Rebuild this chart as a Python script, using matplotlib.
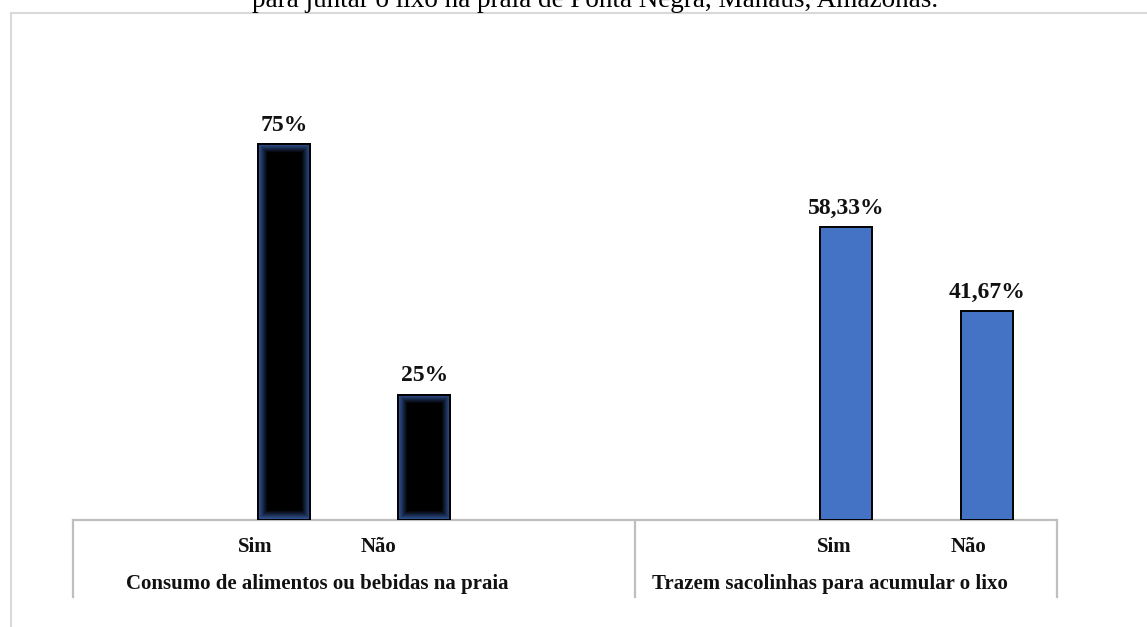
import numpy as np
import matplotlib
matplotlib.use('Agg')
import matplotlib.pyplot as plt
from matplotlib.colors import LinearSegmentedColormap
from matplotlib.lines import Line2D

plt.rcParams['font.family'] = ['Liberation Serif', 'DejaVu Serif']

# data
categories = ['Sim', 'Não', 'Sim', 'Não']
groups = ['Consumo de alimentos ou bebidas na praia', 'Trazem sacolinhas para acumular o lixo']
values = [75, 25, 58.33, 41.67]
value_labels = ['75%', '25%', '58,33%', '41,67%']
title = 'para juntar o lixo na praia de Ponta Negra, Manaus, Amazonas.'

# layout (category slots: group 1 has 4 slots, group 2 has 3)
bar_pos = [1, 2, 5, 6]
label_pos = [0.795, 1.67, 4.914, 5.867]
group_label_pos = [1.236, 4.885]
separators = [-0.5, 3.5, 6.5]

W, H = 1147, 627
fig = plt.figure(figsize=(W / 100, H / 100), dpi=100)
ax = fig.add_axes([73 / W, (H - 520) / H, (1057 - 73) / W, (520 - 118.8) / H])
ax.set_xlim(-0.5, 6.5)
ax.set_ylim(0, 80)
ax.axis('off')

bw = 0.37
cmap = LinearSegmentedColormap.from_list('glow', ['#000000', '#000000', '#1c2f55', '#34599a'])
for i, (x, v) in enumerate(zip(bar_pos, values)):
    if i < 2:
        bar = ax.bar(x, v, width=bw, color='black', edgecolor='black', linewidth=1.4, zorder=2)[0]
        # dark blue glow towards the edges
        nx, ny = 80, 300
        gx = np.abs(np.linspace(-1, 1, nx))
        gy = np.abs(np.linspace(-1, 1, ny))
        px_w = bw * 140.57
        px_h = v * 5.015
        dx = (1 - gx) * px_w / 2
        dy = (1 - gy) * px_h / 2
        d = np.minimum(dx[None, :], dy[:, None])
        grad = np.clip(1 - d / 16.0, 0, 1) ** 1.3
        im = ax.imshow(grad, extent=[x - bw / 2, x + bw / 2, 0, v], aspect='auto',
                       cmap=cmap, vmin=0, vmax=1, zorder=2.5, origin='lower',
                       interpolation='bilinear')
        im.set_clip_path(bar)
        ax.bar(x, v, width=bw, color='none', edgecolor='black', linewidth=1.4, zorder=3)
    else:
        ax.bar(x, v, width=bw, color='#4472c4', edgecolor='black', linewidth=1.4, zorder=3)
    ax.annotate(value_labels[i], (x, v), xytext=(0, 9.5), textcoords='offset points',
                ha='center', va='baseline', fontsize=17, fontweight='bold', color='#111111')

# category axis
tr = ax.get_xaxis_transform()
gray = '#bfbfbf'
ax.add_line(Line2D([-0.5, 6.5], [0, 0], transform=tr, color=gray, lw=1.6, clip_on=False))
for s in separators:
    ax.add_line(Line2D([s, s], [0, -77 / 401], transform=tr, color=gray, lw=1.6, clip_on=False))
for x, c in zip(label_pos, categories):
    ax.text(x, -27 / 401, c, transform=tr, ha='center', va='center',
            fontsize=15, fontweight='bold', color='#111111')
for x, g in zip(group_label_pos, groups):
    ax.text(x, -64 / 401, g, transform=tr, ha='center', va='center',
            fontsize=15, fontweight='bold', color='#111111')

# outer frame (cut off at right and bottom)
fc = '#d9d9d9'
fig.add_artist(Line2D([10.5 / W, 10.5 / W], [0, 1 - 12.5 / H], color=fc, lw=1.5))
fig.add_artist(Line2D([10.5 / W, 1], [1 - 12.5 / H, 1 - 12.5 / H], color=fc, lw=1.5))

fig.text(595 / W, 1 - 7 / H, title, ha='center', va='baseline', fontsize=19.5, color='black')

fig.savefig('out.png', dpi=100)
